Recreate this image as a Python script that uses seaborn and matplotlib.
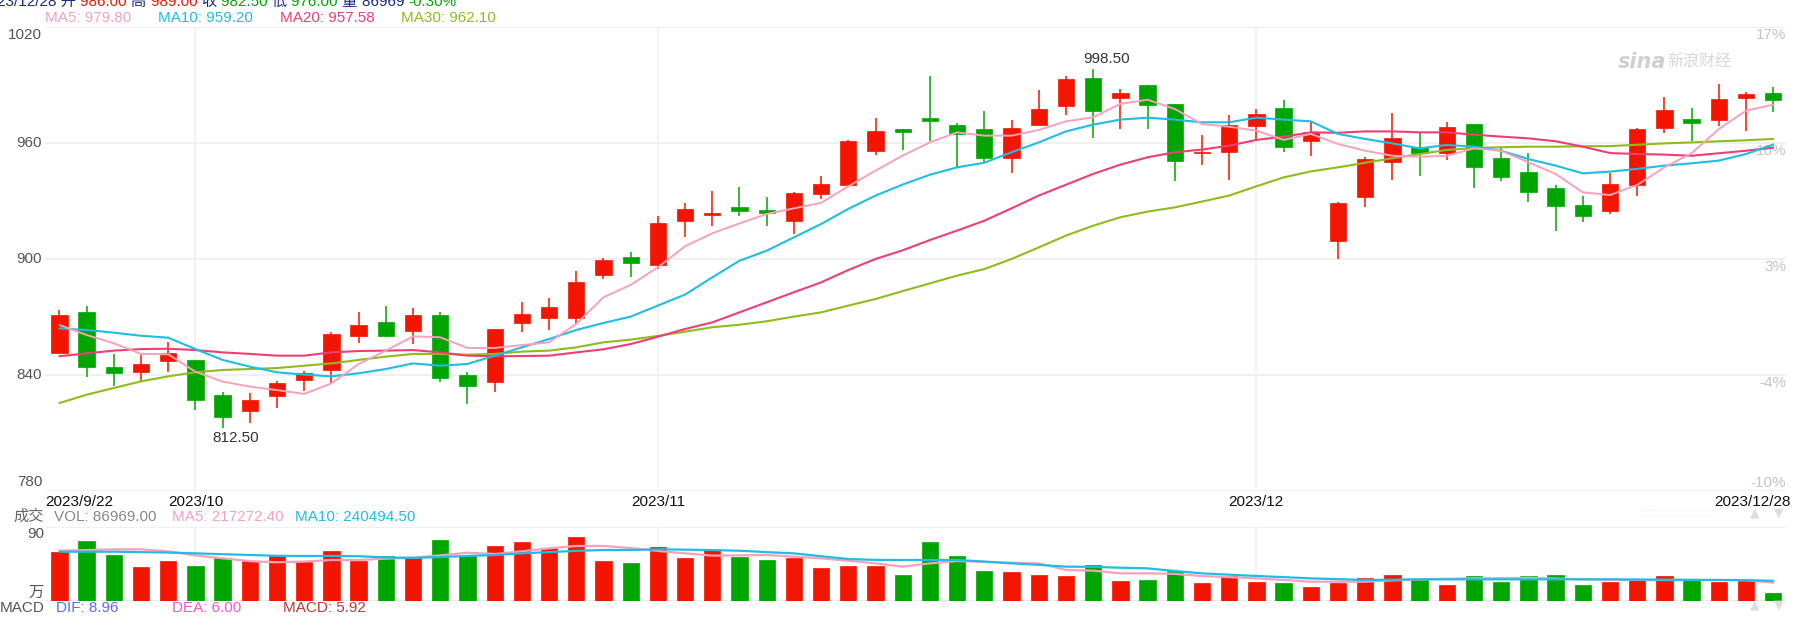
import numpy as np
import pandas as pd
import seaborn as sns
import matplotlib
matplotlib.use("Agg")
import matplotlib.pyplot as plt
from matplotlib.transforms import blended_transform_factory

# ---- data (price in yuan, volume in 万) ----
opens = [851.2, 872.8, 844.3, 841.4, 847.1, 847.8, 829.7, 821.2, 829.0, 837.4,
         842.6, 860.0, 867.6, 862.6, 871.0, 840.0, 836.2, 866.7, 869.3, 869.3,
         891.7, 901.2, 896.9, 919.5, 922.9, 927.1, 925.2, 919.5, 933.8, 938.3,
         955.7, 967.4, 972.9, 969.3, 967.4, 952.1, 969.3, 979.0, 993.8, 983.1,
         990.0, 980.3, 954.8, 955.2, 968.6, 978.3, 960.9, 909.1, 931.9, 950.0,
         957.9, 954.7, 970.0, 952.4, 945.2, 936.9, 927.9, 924.7, 938.3, 967.6,
         972.6, 971.9, 983.1, 986.0]
highs = [873.8, 875.5, 850.9, 850.3, 857.2, 847.8, 831.0, 830.5, 837.1, 842.2,
         862.4, 872.8, 875.9, 874.5, 872.8, 841.7, 864.0, 877.9, 880.0, 894.0,
         900.3, 903.8, 922.4, 929.0, 935.3, 937.4, 932.2, 934.8, 943.1, 961.7,
         973.1, 967.4, 994.8, 970.2, 976.7, 972.1, 987.6, 994.8, 998.5, 988.1,
         990.0, 980.3, 964.1, 974.7, 977.8, 982.4, 970.7, 929.5, 952.6, 975.3,
         965.2, 971.0, 970.0, 957.4, 954.8, 938.3, 932.4, 944.3, 967.8, 983.6,
         978.1, 990.3, 986.6, 989.0]
lows = [851.0, 838.8, 834.5, 836.7, 841.4, 821.9, 812.5, 815.2, 822.8, 831.9,
        835.3, 856.4, 859.5, 856.0, 836.6, 825.0, 831.0, 862.4, 863.4, 866.4,
        889.5, 890.5, 894.8, 911.2, 917.1, 922.1, 917.1, 912.9, 931.0, 938.3,
        954.0, 956.6, 961.2, 947.1, 949.8, 944.7, 969.3, 974.7, 962.6, 967.4,
        967.4, 940.5, 948.6, 941.0, 961.7, 955.2, 953.4, 900.0, 927.1, 941.0,
        943.1, 951.2, 936.6, 940.2, 929.7, 914.5, 919.3, 923.3, 932.8, 965.0,
        960.9, 969.0, 966.0, 976.0]
closes = [871.0, 844.0, 840.9, 845.9, 851.6, 827.1, 818.1, 827.1, 836.0, 841.2,
          861.4, 865.9, 860.0, 871.0, 838.3, 834.1, 864.0, 871.7, 875.3, 888.3,
          899.5, 897.8, 918.8, 926.0, 924.0, 924.8, 924.0, 934.3, 939.0, 960.9,
          966.0, 965.5, 971.2, 964.7, 952.1, 967.9, 977.8, 993.3, 976.4, 986.0,
          979.7, 950.5, 955.4, 969.1, 975.2, 957.8, 965.9, 929.1, 951.9, 962.8,
          954.7, 968.4, 947.4, 942.2, 934.5, 927.2, 922.1, 939.0, 967.4, 977.1,
          970.2, 982.9, 985.5, 982.5]

ma5 = [865.9, 860.7, 856.4, 850.9, 850.7, 841.7, 836.6, 834.0, 832.2, 830.2,
       835.7, 845.7, 852.6, 860.0, 859.5, 854.0, 854.0, 855.5, 856.9, 866.4,
       880.2, 886.6, 895.7, 906.6, 913.3, 918.4, 923.3, 926.2, 929.0, 937.6,
       945.7, 953.5, 960.3, 965.5, 963.8, 963.8, 966.7, 971.2, 973.3, 980.2,
       982.4, 977.6, 969.8, 968.4, 966.4, 961.6, 964.7, 959.5, 956.0, 953.4,
       952.9, 953.4, 957.2, 956.0, 950.0, 944.0, 934.5, 933.1, 938.3, 947.4,
       954.7, 967.2, 976.7, 979.8]
ma10 = [864.1, 863.3, 861.9, 860.3, 859.3, 853.4, 847.8, 844.3, 841.4, 840.2,
        839.3, 840.9, 843.1, 846.0, 844.8, 845.7, 850.0, 854.3, 858.6, 863.3,
        866.9, 870.2, 875.9, 881.6, 890.5, 899.1, 904.3, 911.2, 918.1, 925.9,
        932.8, 938.5, 943.6, 947.4, 949.8, 955.2, 960.3, 966.0, 969.5, 972.1,
        973.1, 972.1, 970.7, 970.7, 973.1, 972.1, 971.2, 964.7, 962.1, 959.8,
        957.2, 959.0, 958.1, 956.0, 951.7, 948.3, 944.3, 945.2, 946.6, 948.3,
        949.5, 950.9, 954.3, 959.2]
ma20 = [849.7, 851.2, 852.6, 853.4, 853.6, 852.9, 851.7, 850.9, 850.0, 850.0,
        851.7, 852.4, 852.6, 852.9, 851.7, 850.0, 849.7, 849.8, 850.0, 851.7,
        853.3, 856.0, 859.8, 863.8, 867.2, 872.4, 877.6, 882.8, 887.9, 894.3,
        900.0, 904.5, 909.8, 914.7, 919.8, 926.2, 932.8, 938.4, 944.0, 948.8,
        952.6, 955.2, 956.6, 958.6, 961.6, 963.3, 965.5, 965.3, 966.0, 966.0,
        965.5, 965.5, 964.3, 963.3, 962.4, 960.9, 958.1, 954.8, 954.3, 954.0,
        953.4, 954.7, 956.0, 957.6]
ma30 = [825.5, 829.8, 833.3, 836.7, 839.3, 841.4, 842.6, 843.1, 843.6, 844.8,
        846.0, 847.8, 849.5, 850.9, 850.9, 850.5, 850.9, 852.1, 852.6, 854.3,
        856.9, 858.3, 860.2, 862.4, 864.7, 866.0, 867.8, 870.2, 872.4, 875.9,
        879.3, 883.4, 887.4, 891.4, 894.8, 900.0, 906.0, 912.1, 917.2, 921.6,
        924.5, 926.7, 929.7, 932.8, 937.6, 942.2, 945.3, 947.4, 949.8, 952.1,
        954.3, 956.4, 957.4, 957.8, 958.1, 958.1, 958.3, 958.4, 959.1, 959.8,
        960.3, 960.9, 961.4, 962.1]

vol = [59.1, 72.6, 55.5, 40.9, 48.5, 42.1, 51.8, 48.2, 53.9, 47.3,
       60.4, 48.5, 54.3, 53.4, 73.8, 54.3, 66.5, 71.3, 63.6, 77.4,
       48.5, 45.4, 65.2, 51.4, 62.0, 53.0, 49.4, 51.4, 39.2, 42.1,
       42.1, 31.1, 71.3, 54.3, 36.0, 34.8, 31.1, 29.9, 43.3, 23.8,
       25.0, 36.0, 21.0, 29.9, 22.6, 21.0, 16.5, 21.3, 27.1, 31.1,
       25.0, 18.9, 29.9, 22.9, 29.9, 31.1, 18.9, 22.6, 25.8, 29.9,
       25.0, 22.6, 24.2, 8.7]
vol_ma5 = [60.8, 61.5, 62.4, 62.4, 60.0, 55.0, 51.5, 48.0, 46.6, 47.5,
           49.4, 49.4, 51.0, 52.2, 55.0, 58.3, 56.7, 60.0, 63.6, 66.5,
           66.5, 64.0, 60.4, 57.5, 54.7, 55.0, 55.5, 53.5, 51.4, 48.5,
           45.3, 41.3, 45.3, 48.2, 47.0, 46.1, 45.3, 37.2, 36.4, 33.1,
           33.1, 32.5, 29.8, 28.5, 27.0, 25.0, 22.9, 22.9, 22.9, 24.5,
           25.8, 26.5, 27.0, 27.3, 27.6, 26.8, 25.8, 25.4, 25.0, 25.0,
           25.0, 25.0, 25.0, 21.7]
vol_ma10 = [59.5, 59.5, 59.5, 59.0, 58.5, 57.5, 56.5, 55.5, 54.5, 54.3,
            54.3, 54.0, 52.5, 52.0, 53.0, 54.3, 55.5, 57.5, 59.0, 60.5,
            61.6, 61.6, 62.4, 62.0, 61.5, 60.7, 59.0, 57.5, 54.0, 50.6,
            49.5, 49.4, 49.4, 49.4, 47.5, 45.3, 43.5, 41.3, 41.0, 40.0,
            39.2, 36.0, 33.1, 31.5, 29.9, 28.5, 27.0, 26.0, 25.0, 25.4,
            25.8, 25.8, 25.8, 25.8, 25.8, 25.8, 25.8, 25.8, 25.6, 25.4,
            25.2, 25.0, 24.8, 24.0]

price_ticks = [780, 840, 900, 960, 1020]
pct_labels = ["-10%", "-4%", "3%", "10%", "17%"]
month_pos = [5, 22, 44]
month_labels = ["2023/10", "2023/11", "2023/12"]
first_date, last_date = "2023/9/22", "2023/12/28"
hi_idx, lo_idx = 38, 6

quote = [("23/12/28 开 ", "navy"), ("986.00 ", "up"), ("高 ", "navy"), ("989.00 ", "up"),
         ("收 ", "navy"), ("982.50 ", "down"), ("低 ", "navy"), ("976.00 ", "down"),
         ("量 ", "navy"), ("86969 ", "navy"), ("-0.30%", "down")]
ma_header = ["MA5: 979.80", "MA10: 959.20", "MA20: 957.58", "MA30: 962.10"]

# ---- style ----
RED, GREEN = "#F21500", "#00A600"
C5, C10, C20, C30 = "#F7A1BC", "#1FBDE3", "#EE3E74", "#8FBC1D"
GRID = "#ECECEC"

sns.set_theme(style="white")
plt.rcParams["font.family"] = ["Liberation Sans", "Noto Sans CJK SC", "DejaVu Sans"]
plt.rcParams["font.size"] = 11

W, H = 1796, 617
fig = plt.figure(figsize=(W / 100, H / 100), dpi=100)
fig.patch.set_facecolor("white")


def fx(p):
    return p / W


def fy(p):
    return 1 - p / H


df = pd.DataFrame({"i": np.arange(len(closes)), "open": opens, "high": highs,
                   "low": lows, "close": closes, "ma5": ma5, "ma10": ma10,
                   "ma20": ma20, "ma30": ma30, "vol": vol,
                   "vma5": vol_ma5, "vma10": vol_ma10})
df["color"] = np.where(df["close"] >= df["open"], RED, GREEN)

xlim = (-0.53, 63.47)
ax = fig.add_axes([fx(45), fy(491), (1786 - 45) / W, (491 - 27) / H])
axv = fig.add_axes([fx(45), fy(600.5), (1786 - 45) / W, (600.5 - 526.7) / H])

# grid
for t in price_ticks:
    ax.axhline(t, color=GRID, lw=1.1, zorder=0)
for a in (ax, axv):
    for m in month_pos:
        a.axvline(m, color="#EFEFEF", lw=1.1, zorder=0)
axv.axhline(90, color=GRID, lw=1.1, zorder=0)
axv.axhline(0, color="#E6E6E6", lw=1.1, zorder=0)

# candles
ax.vlines(df["i"], df["low"], df["high"], colors=df["color"], lw=1.1, zorder=2)
body = np.maximum((df["close"] - df["open"]).abs(), 0.6)
ax.bar(df["i"], body, bottom=np.minimum(df["open"], df["close"]), width=0.6,
       color=df["color"], edgecolor=df["color"], lw=0.5, zorder=3)

# moving averages
for col, c, lw in [("ma30", C30, 1.5), ("ma20", C20, 1.5), ("ma10", C10, 1.5), ("ma5", C5, 1.4)]:
    sns.lineplot(data=df, x="i", y=col, ax=ax, color=c, lw=lw, legend=False, zorder=4)

# volume
axv.bar(df["i"], df["vol"], width=0.6, color=df["color"], edgecolor=df["color"], lw=0.5, zorder=2)
sns.lineplot(data=df, x="i", y="vma5", ax=axv, color=C5, lw=1.6, legend=False, zorder=3)
sns.lineplot(data=df, x="i", y="vma10", ax=axv, color=C10, lw=1.6, legend=False, zorder=3)

for a in (ax, axv):
    a.set_xlim(*xlim)
    a.axis("off")
ax.set_ylim(780, 1020)
axv.set_ylim(0, 90)

# extreme labels
ax.annotate(f"{highs[hi_idx]:.2f}", (hi_idx, highs[hi_idx]), xytext=(9.5, 2),
            textcoords="offset points", ha="center", va="bottom", color="#333333", fontsize=11)
ax.annotate(f"{lows[lo_idx]:.2f}", (lo_idx, lows[lo_idx]), xytext=(9.3, -2),
            textcoords="offset points", ha="center", va="top", color="#333333", fontsize=11)

# price labels left / percent labels right
tl = blended_transform_factory(ax.transAxes, ax.transData)
for t, p in zip(price_ticks, pct_labels):
    dy = -6.0 if t == price_ticks[-1] else (6.5 if t == price_ticks[0] else 0)
    ax.annotate(str(t), (0, t), xycoords=tl, xytext=(-2, dy), textcoords="offset points",
                ha="right", va="center", color="#555555", fontsize=11)
    dy2 = 6.0 if t == price_ticks[0] else -5.5
    ax.annotate(p, (1, t), xycoords=tl, xytext=(0, dy2), textcoords="offset points",
                ha="right", va="center", color="#C4C4C4", fontsize=11, zorder=1)

# date labels
tb = blended_transform_factory(ax.transData, ax.transAxes)
ydate = -(502 - 491) / (491 - 27)
ax.text(0, ydate, first_date, transform=ax.transAxes, ha="left", va="center", color="#111111", fontsize=11)
for m, lab in zip(month_pos, month_labels):
    ax.text(m, ydate, lab, transform=tb, ha="center", va="center", color="#111111", fontsize=11)
ax.text(1.0025, ydate, last_date, transform=ax.transAxes, ha="right", va="center", color="#111111", fontsize=11)

fig.text(fx(44), fy(533.5), "90", ha="right", va="center", color="#555555", fontsize=11)
fig.text(fx(44), fy(593), "万", ha="right", va="center", color="#555555", fontsize=11)

fig.text(fx(13), fy(517), "成交", ha="left", va="center", color="#666666", fontsize=11)
fig.text(fx(54), fy(517), "VOL: 86969.00", ha="left", va="center", color="#888888", fontsize=11)
fig.text(fx(172), fy(517), "MA5: 217272.40", ha="left", va="center", color=C5, fontsize=11)
fig.text(fx(295), fy(517), "MA10: 240494.50", ha="left", va="center", color=C10, fontsize=11)

fig.text(fx(0), fy(608), "MACD", ha="left", va="center", color="#555555", fontsize=11)
fig.text(fx(56), fy(608), "DIF: 8.96", ha="left", va="center", color="#5B6CF0", fontsize=11)
fig.text(fx(172), fy(608), "DEA: 6.00", ha="left", va="center", color="#EE55DD", fontsize=11)
fig.text(fx(283), fy(608), "MACD: 5.92", ha="left", va="center", color="#B53A3A", fontsize=11)

fig.canvas.draw()
rend = fig.canvas.get_renderer()

# MA header row, laid out one after another
xpos, gap = 45, None
for s, c in zip(ma_header, [C5, C10, C20, C30]):
    t = fig.text(fx(xpos), fy(18), s, ha="left", va="center", color=c, fontsize=11)
    w = t.get_window_extent(renderer=rend).width
    if gap is None:
        gap = 158 - (xpos + w)
    xpos += w + gap

# clipped quote line at the very top
cmap = {"navy": "#1B2A7C", "up": RED, "down": GREEN}
xpos = -3
for s, k in quote:
    t = fig.text(fx(xpos), fy(6), s, ha="left", va="baseline", color=cmap[k], fontsize=11)
    xpos += t.get_window_extent(renderer=rend).width

# sina watermark and scroll controls
t = fig.text(fx(1618), fy(62), "sina", ha="left", va="center", color="#D0D0D0", fontsize=15,
             fontstyle="italic", fontweight="bold", family="DejaVu Sans")
sx = 1618 + t.get_window_extent(renderer=rend).width + 1
fig.text(fx(sx), fy(62), "新浪财经", ha="left", va="center", color="#D6D6D6", fontsize=11.5,
         family="Noto Sans CJK SC")
for yy in (513, 605):
    fig.text(fx(1641), fy(yy), ":" * 28, ha="left", va="center", color="#DDDDDD", fontsize=7)
    fig.text(fx(1755), fy(yy), "▲", ha="center", va="center", color="#DDDDDD", fontsize=9,
             family="DejaVu Sans")
    fig.text(fx(1779), fy(yy), "▼", ha="center", va="center", color="#DDDDDD", fontsize=9,
             family="DejaVu Sans")

fig.savefig("out.png", dpi=100, facecolor="white")
